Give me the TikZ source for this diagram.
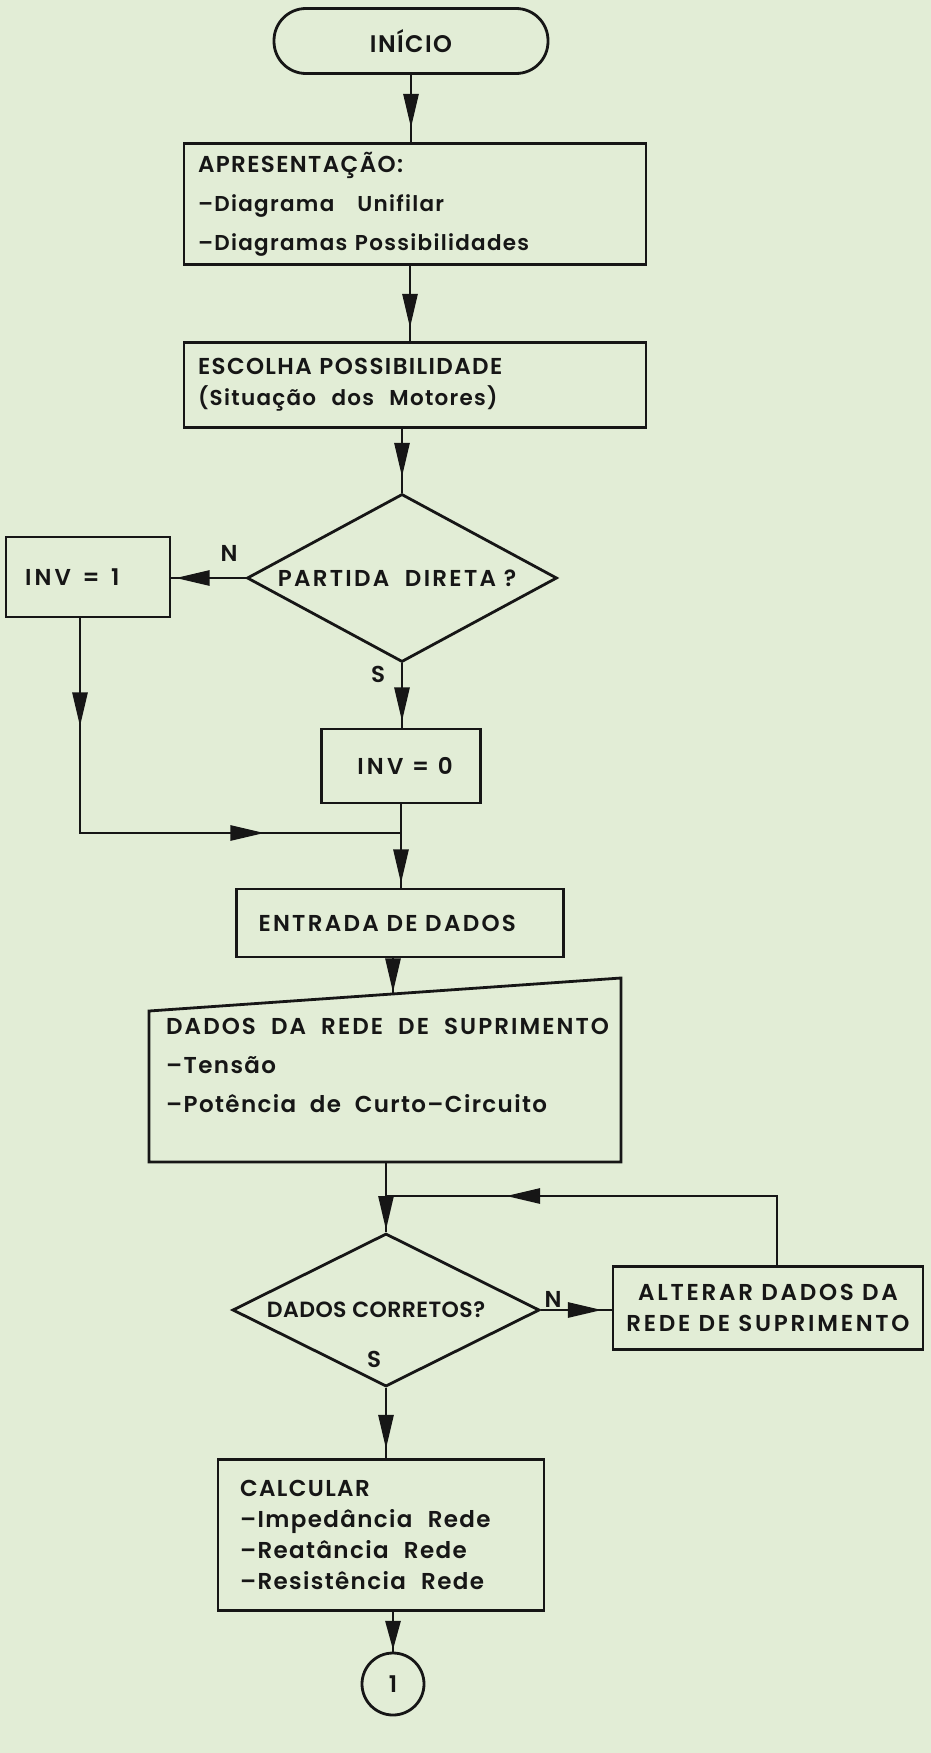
\documentclass[tikz,border=0pt]{standalone}
\usepackage{fontspec}
\setmainfont{Poppins}[UprightFont={* SemiBold}, LetterSpace=6]
\newcommand{\lsp}[1]{\addfontfeatures{LetterSpace=#1}}
\newcommand{\lcs}[1]{{\fontsize{21.5}{\baselineskip}\selectfont #1}}
\usetikzlibrary{shapes.geometric, arrows.meta, decorations.markings, calc}
\definecolor{bg}{RGB}{226,237,214}
\definecolor{ink}{RGB}{22,22,22}
\begin{document}
\begin{tikzpicture}[x=1pt,y=-1pt,
  conn/.style={draw=ink, line width=2.8pt},
  arr/.style={postaction={decorate}, decoration={markings, mark=at position #1 with {\arrow{Triangle[length=34pt,width=15pt]}}}},
  arrs/.style={postaction={decorate}, decoration={markings, mark=at position #1 with {\arrow{Triangle[length=29pt,width=15pt]}}}},
  box/.style={draw=ink, line width=2.8pt, rectangle, inner ysep=0pt, text=ink, font=\fontsize{23}{31}\selectfont},
  dia/.style={draw=ink, line width=2.8pt, diamond, inner sep=0pt},
  lbl/.style={text=ink, font=\fontsize{23}{26}\selectfont, inner sep=0pt}]
\fill[bg] (0,0) rectangle (931,1753);
\useasboundingbox (0,0) rectangle (931,1753);

% nodes
\node[box, minimum width=274, minimum height=65, rounded corners=32pt, align=center, font=\fontsize{24}{28}\selectfont] (start) at (411,41) {INÍCIO};
\node[box, minimum width=462, minimum height=121, inner xsep=14pt, text width=434, align=left, font=\fontsize{23}{39}\selectfont] (apr) at (415,204)
  {APRESENTAÇÃO:\\\lcs{–Diagrama\ \ \ Unifilar}\\\lcs{–Diagramas Possibilidades}};
\node[box, minimum width=462, minimum height=85, inner xsep=14pt, text width=434, align=left] (esc) at (415,385)
  {ESCOLHA POSSIBILIDADE\\\lcs{(Situação\ \ dos\ \ Motores)}};
\node[dia, minimum width=310, minimum height=168] (d1) at (402,578) {};
\node[lbl] (d1t) at (397,578) {\lsp{10}PARTIDA\ \ DIRETA ?};
\node[box, minimum width=164, minimum height=80, inner xsep=19pt, text width=126, align=left] (inv1) at (88,577) {\lsp{14}INV\ \,=\ \,1};
\node[box, minimum width=159, minimum height=74] (inv0) at (401,766) {};
\node[lbl] (inv0t) at (405,766) {\lsp{14}INV\ =\ 0};
\coordinate (j1) at (401,833);
\node[box, minimum width=327, minimum height=68, inner xsep=22pt, text width=283, align=left] (ent) at (400,923) {\lsp{10}ENTRADA DE DADOS};

% manual input shape
\coordinate (dtl) at (149,1011);
\coordinate (dtr) at (621,978);
\coordinate (dbr) at (621,1162);
\coordinate (dbl) at (149,1162);
\draw[conn, line join=miter] (dtl) -- (dtr) -- (dbr) -- (dbl) -- cycle;
\node[lbl, anchor=west, align=left, font=\fontsize{23}{39}\selectfont] (dad) at (166,1065)
  {{\lsp{9}DADOS\ \ DA\ \ REDE\ \ DE\ \ SUPRIMENTO}\\–Tensão\\–Potência\ \ de\ \ Curto–Circuito};
\coordinate (dadin) at (393,994);
\coordinate (dadout) at (386,1162);

\coordinate (j2) at (386,1196);
\node[dia, minimum width=307, minimum height=153] (d2) at (386,1310) {};
\node[lbl, font=\fontsize{22}{26}\selectfont] (d2t) at (376,1310) {\lsp{2}DADOS CORRETOS?};
\node[box, minimum width=310, minimum height=83, align=center] (alt) at (768,1308)
  {\lsp{12}ALTERAR DADOS DA\\\lsp{12}REDE DE SUPRIMENTO};
\node[box, minimum width=326, minimum height=151, inner xsep=22pt, text width=282, align=left] (calc) at (381,1535)
  {CALCULAR\\–Impedância\ \ Rede\\–Reatância\ \ Rede\\–Resistência\ \ Rede};
\node[draw=ink, line width=2.8pt, circle, minimum size=62, inner sep=0pt, text=ink, font=\fontsize{23}{26}\selectfont] (c1) at (393,1684) {1};

% labels
\node[lbl] (n1) at (229,553) {N};
\node[lbl] (s1) at (378,674) {S};
\node[lbl] (n2) at (553,1299) {N};
\node[lbl] (s2) at (374,1359) {S};

% connectors
\draw[conn, arr=53pt] (start.south) -- (apr.north -| start.south);
\draw[conn, arr=62pt] (apr.south -| 410,0) -- (esc.north -| 410,0);
\draw[conn, arr=48pt] (esc.south -| d1.north) -- (d1.north);
\draw[conn, arr=70pt] (d1.west) -- (inv1.east |- d1.west);
\draw[conn, arr=58pt] (d1.south) -- (inv0.north -| d1.south);
\draw[conn, postaction={decorate}, decoration={markings,
   mark=at position 108pt with {\arrow{Triangle[length=34pt,width=15pt]}},
   mark=at position 399pt with {\arrow{Triangle[length=34pt,width=15pt]}}}]
   (inv1.south -| 80,0) |- (j1);
\draw[conn, arr=79pt] (inv0.south) -- (ent.north -| inv0.south);
\draw[conn, arr=34pt] (ent.south -| dadin) -- (dadin);
\draw[conn, arr=68pt] (dadout) -- (d2.north);
\draw[conn, arr=61pt] (d2.east) -- (alt.west |- d2.east);
\draw[conn, arr=340pt] (alt.north -| 777,0) |- (j2);
\draw[conn, arr=61pt] (d2.south) -- (calc.north -| d2.south);
\draw[conn, arrs=38pt] (calc.south -| c1.north) -- (c1.north);
\end{tikzpicture}
\end{document}
